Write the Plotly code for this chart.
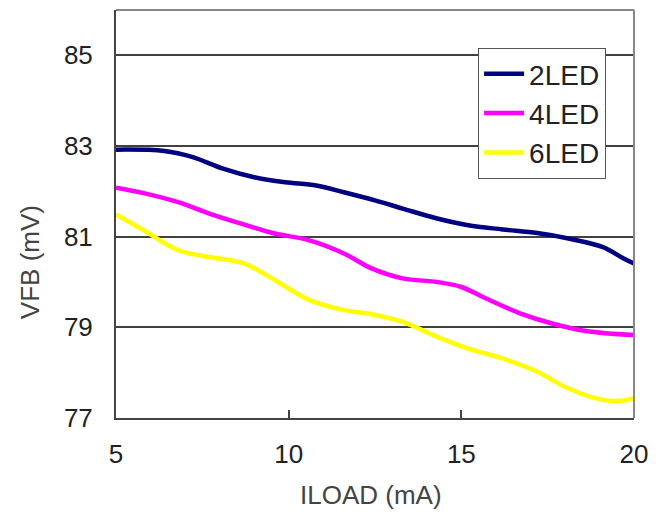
import plotly.graph_objects as go

# ILOAD (mA) sample points and VFB (mV) readings
x_2led = [5.0, 6.4, 7.2, 8.1, 9.0, 9.9, 10.8, 11.6, 12.5, 13.3, 14.3, 15.2, 16.2, 17.2, 18.1, 19.1, 19.7, 20.0]
y_2led = [82.92, 82.89, 82.76, 82.50, 82.31, 82.20, 82.13, 81.98, 81.80, 81.62, 81.40, 81.25, 81.16, 81.08, 80.96, 80.77, 80.52, 80.41]

x_4led = [5.0, 5.8, 6.8, 7.7, 8.7, 9.6, 10.6, 11.6, 12.4, 13.3, 14.3, 15.0, 15.7, 16.7, 17.6, 18.6, 20.0]
y_4led = [82.08, 81.96, 81.76, 81.51, 81.27, 81.07, 80.92, 80.63, 80.30, 80.08, 80.00, 79.89, 79.64, 79.31, 79.09, 78.92, 78.83]

x_6led = [5.0, 5.8, 6.8, 7.7, 8.7, 9.6, 10.6, 11.6, 12.4, 13.3, 14.3, 15.2, 16.2, 17.2, 18.1, 19.1, 19.6, 20.0]
y_6led = [81.49, 81.14, 80.70, 80.55, 80.41, 80.04, 79.60, 79.38, 79.29, 79.12, 78.79, 78.53, 78.31, 78.02, 77.65, 77.40, 77.38, 77.43]

series_names = ["2LED", "4LED", "6LED"]
series_colors = ["#000080", "#FF00FF", "#FFFF00"]

x_ticks = [5, 10, 15, 20]
y_ticks = [77, 79, 81, 83, 85]

FONT = "Liberation Sans, Arial, sans-serif"

fig = go.Figure()
for name, xs, ys, col in zip(series_names, [x_2led, x_4led, x_6led], [y_2led, y_4led, y_6led], series_colors):
    fig.add_trace(go.Scatter(x=xs, y=ys, mode="lines", name=name,
                             line=dict(color=col, width=4.5, shape="spline", smoothing=1.0)))

fig.update_layout(
    width=661, height=507,
    margin=dict(l=108, r=35, t=2, b=97, autoexpand=False),
    paper_bgcolor="white", plot_bgcolor="white",
    font=dict(family=FONT, size=26, color="#222"),
    showlegend=True,
    legend=dict(x=0.699, y=0.907, xanchor="left", yanchor="top",
                bordercolor="#555", borderwidth=1, bgcolor="white",
                font=dict(size=28, color="#222"), tracegroupgap=0,
                itemwidth=40),
    xaxis=dict(range=[5, 20], tickvals=x_ticks, showgrid=False, zeroline=False,
               showline=True, linecolor="#444", linewidth=2, automargin=False,
               ticks="inside", ticklen=8, tickwidth=2, tickcolor="#444",
               ticklabelstandoff=12),
    yaxis=dict(range=[77, 86], tickvals=y_ticks, showgrid=True, gridcolor="#404040", gridwidth=1.6,
               zeroline=False, showline=True, linecolor="#444", linewidth=2, automargin=False,
               ticks="", ticklabelstandoff=16),
    shapes=[
        dict(type="line", xref="paper", yref="paper", x0=0, x1=1, y0=1, y1=1,
             line=dict(color="#888", width=2)),
        dict(type="line", xref="paper", yref="paper", x0=1, x1=1, y0=0, y1=1,
             line=dict(color="#888", width=2)),
    ],
    annotations=[
        dict(text="VFB (mV)", xref="paper", yref="paper", x=-0.166, y=0.382,
             textangle=-90, showarrow=False, font=dict(size=26, color="#444"),
             xanchor="center", yanchor="middle"),
        dict(text="ILOAD (mA)", xref="paper", yref="paper", x=0.492, y=-0.189,
             showarrow=False, font=dict(size=26, color="#444"),
             xanchor="center", yanchor="middle"),
    ],
)

fig.write_html("out.html")
